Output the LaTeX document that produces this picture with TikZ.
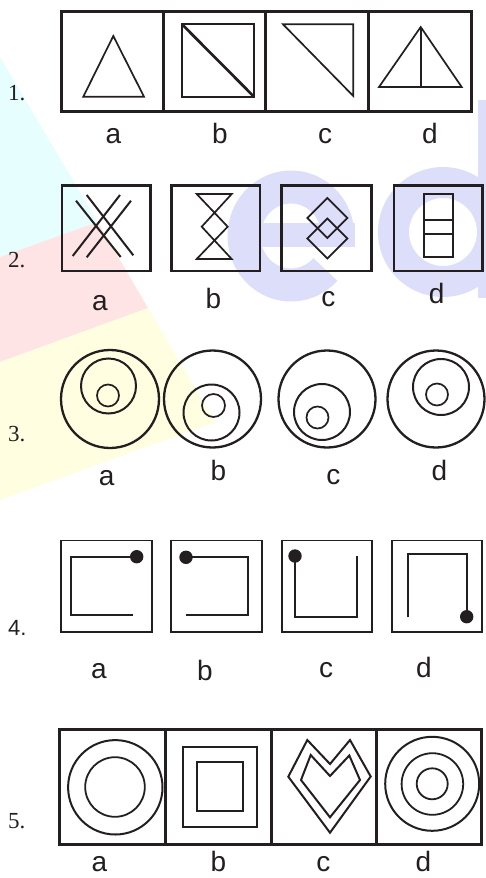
\documentclass[tikz,border=0pt]{standalone}
\usepackage{fontspec}
\setmainfont{Liberation Serif}
\newfontfamily\labsans{Liberation Sans}
\definecolor{ink}{RGB}{35,31,32}
\definecolor{wmcyan}{RGB}{230,254,254}
\definecolor{wmpink}{RGB}{255,228,230}
\definecolor{wmyellow}{RGB}{255,254,224}
\definecolor{wmlav}{RGB}{221,222,250}
\begin{document}
\begin{tikzpicture}[x=1pt,y=-1pt,
  frame/.style={draw=ink,line width=3pt},
  frametwo/.style={draw=ink,line width=2.7pt},
  framethin/.style={draw=ink,line width=1.8pt},
  fig/.style={draw=ink,line width=1.7pt,line join=miter},
  ring/.style={draw=ink,line width=2pt},
  dotm/.style={fill=ink},
  lab/.style={font=\labsans\fontsize{28}{28}\selectfont,text=ink,inner sep=0pt,anchor=base},
  num/.style={font=\fontsize{23}{23}\selectfont,text=ink,inner sep=0pt,anchor=base west},
  numsans/.style={font=\labsans\fontsize{22}{22}\selectfont,text=ink,inner sep=0pt,anchor=base west}]
\useasboundingbox (0,0) rectangle (486,878);
\clip (0,0) rectangle (486,878);
% ---- watermark ----
\fill[wmcyan] (0,57) -- (97.6,222) -- (0,257) -- cycle;
\fill[wmpink] (0,257) -- (97.6,222) -- (148,308) -- (0,362) -- cycle;
\fill[wmyellow] (0,362) -- (148,308) -- (215,422) -- (0,500) -- cycle;
\draw[wmlav,line width=33pt] plot[domain=0:317,samples=80,smooth] ({291+47*cos(\x)},{236-49*sin(\x)});
\fill[wmlav] (258,223) rectangle (355,247);
\fill[wmlav,even odd rule] (443,232) circle[radius=65pt] (443,232) circle[radius=34pt];
\fill[wmlav] (478,100) rectangle (486,298);
% ---- row 1 ----
\node[num] (n1) at (8,100) {1.};
\draw[frame] (61,11.7) rectangle (471,111.7);
\draw[frame] (163.3,11.7) -- (163.3,111.7) (265,11.7) -- (265,111.7) (368.3,11.7) -- (368.3,111.7);
\draw[fig] (113.3,36) -- (144,96.7) -- (83.3,96.7) -- cycle;
\draw[fig] (182,24.3) rectangle (254,96.7);
\draw[fig,line width=2.7pt] (182,24.3) -- (254,96.7);
\draw[fig] (283,24.3) -- (353.3,24.3) -- (353.3,96) -- cycle;
\draw[fig] (420.7,27) -- (461.7,87) -- (379,87) -- cycle;
\draw[fig,line width=2.3pt] (420.7,27) -- (420.7,87);
\node[lab] (l1a) at (113.3,143) {a};
\node[lab] (l1b) at (220,143) {b};
\node[lab] (l1c) at (325,143) {c};
\node[lab] (l1d) at (430,143) {d};
% ---- row 2 ----
\node[num] (n2) at (8,267) {2.};
\draw[frametwo] (62,185.7) rectangle (150.5,271);
\draw[frametwo] (171.7,185.7) rectangle (260,271);
\draw[frametwo] (281.7,185.7) rectangle (371.7,271);
\draw[frametwo] (394,185.7) rectangle (482.3,271);
\draw[fig,line width=2pt] (72.7,256) -- (120,195);
\draw[fig,line width=2pt] (86.7,257.3) -- (131,200.7);
\draw[fig,line width=2pt] (76,200.7) -- (120.7,257);
\draw[fig,line width=2pt] (86.7,195) -- (133.3,255.3);
\draw[fig] (196.7,194) -- (231.7,194) -- (201.7,226.7) -- (231.7,259) -- (196.7,259) -- (227.7,226.7) -- cycle;
\draw[fig] (327.3,198) -- (347.3,218) -- (327.3,238) -- (307.3,218) -- cycle;
\draw[fig] (327.3,218.5) -- (347.3,238.5) -- (327.3,258.5) -- (307.3,238.5) -- cycle;
\draw[fig,line width=2pt] (424,194) rectangle (452.7,257.3);
\draw[fig] (424,220) -- (452.7,220) (424,234.3) -- (452.7,234.3);
\node[lab] (l2a) at (100,310) {a};
\node[lab] (l2b) at (213.3,308) {b};
\node[lab] (l2c) at (328.3,306) {c};
\node[lab] (l2d) at (436.7,303.3) {d};
% ---- row 3 ----
\node[num] (n3) at (8,441) {3.};
\draw[ring,line width=2.3pt] (110,399) circle[radius=49pt];
\draw[ring] (108.5,386) circle[radius=27.5pt];
\draw[ring,line width=1.7pt] (108,395.5) circle[radius=11pt];
\draw[ring,line width=2.3pt] (212.5,399) circle[radius=48.5pt];
\draw[ring] (211.5,412.5) circle[radius=28pt];
\draw[ring,line width=1.7pt] (213.5,405.5) circle[radius=11.5pt];
\draw[ring,line width=2.3pt] (327,399) circle[radius=48.5pt];
\draw[ring] (322,412) circle[radius=28pt];
\draw[ring,line width=1.7pt] (317.5,417.5) circle[radius=11pt];
\draw[ring,line width=2.3pt] (436,399) circle[radius=48.5pt];
\draw[ring] (441,387) circle[radius=28pt];
\draw[ring,line width=1.7pt] (437,394.5) circle[radius=11pt];
\node[lab] (l3a) at (106.7,485) {a};
\node[lab] (l3b) at (218.3,480.7) {b};
\node[lab] (l3c) at (333.3,484) {c};
\node[lab] (l3d) at (439.3,480) {d};
% ---- row 4 ----
\node[numsans] (n4) at (8,635) {4.};
\draw[framethin] (61,540.5) rectangle (152,632);
\draw[framethin] (171,540.5) rectangle (262,632);
\draw[framethin] (282,540.5) rectangle (372,632);
\draw[framethin] (392,540.5) rectangle (482,632);
\draw[fig] (133.3,615) -- (71,615) -- (71,557) -- (136.7,557);
\fill[dotm] (136.7,556.7) circle[radius=6.7pt];
\draw[fig] (186,557.3) -- (248.3,557.3) -- (248.3,615) -- (185.7,615);
\fill[dotm] (186,557.3) circle[radius=6.7pt];
\draw[fig] (295,556) -- (295,617.3) -- (357,617.3) -- (357,556);
\fill[dotm] (295,556) circle[radius=6.7pt];
\draw[fig] (408.3,617.3) -- (408.3,554.3) -- (467,554.3) -- (467,616.7);
\fill[dotm] (466.7,616.7) circle[radius=6.7pt];
\node[lab] (l4a) at (99,678) {a};
\node[lab] (l4b) at (205,680) {b};
\node[lab] (l4c) at (326,677) {c};
\node[lab] (l4d) at (424,677) {d};
% ---- row 5 ----
\node[num] (n5) at (8,828) {5.};
\draw[frame] (59.3,729.3) rectangle (481,844.7);
\draw[frame] (165,729.3) -- (165,844.7) (271.7,729.3) -- (271.7,844.7) (376,729.3) -- (376,844.7);
\draw[ring] (115.3,787.3) circle[radius=47.2pt];
\draw[ring,line width=1.8pt] (115,787) circle[radius=29.8pt];
\draw[fig,line width=2.3pt] (183.3,746.7) rectangle (256.7,826.7);
\draw[fig,line width=2.3pt] (197.3,762.3) rectangle (242.7,810.7);
\draw[fig,line width=2pt] (288.3,776.7) -- (307.3,740) -- (330,764) -- (350,740) -- (370.7,776.5) -- (330,832.7) -- cycle;
\draw[fig,line width=2pt] (301,780) -- (310.7,755) -- (330,776) -- (349.3,755.5) -- (360,780) -- (330,817.3) -- cycle;
\draw[ring] (432.2,783.8) circle[radius=47pt];
\draw[ring,line width=1.8pt] (432.4,784) circle[radius=30.8pt];
\draw[ring,line width=1.8pt] (432.2,783.8) circle[radius=15.5pt];
\node[lab] (l5a) at (99.3,871) {a};
\node[lab] (l5b) at (218.3,871) {b};
\node[lab] (l5c) at (323.3,871) {c};
\node[lab] (l5d) at (423.3,871) {d};
\end{tikzpicture}
\end{document}
